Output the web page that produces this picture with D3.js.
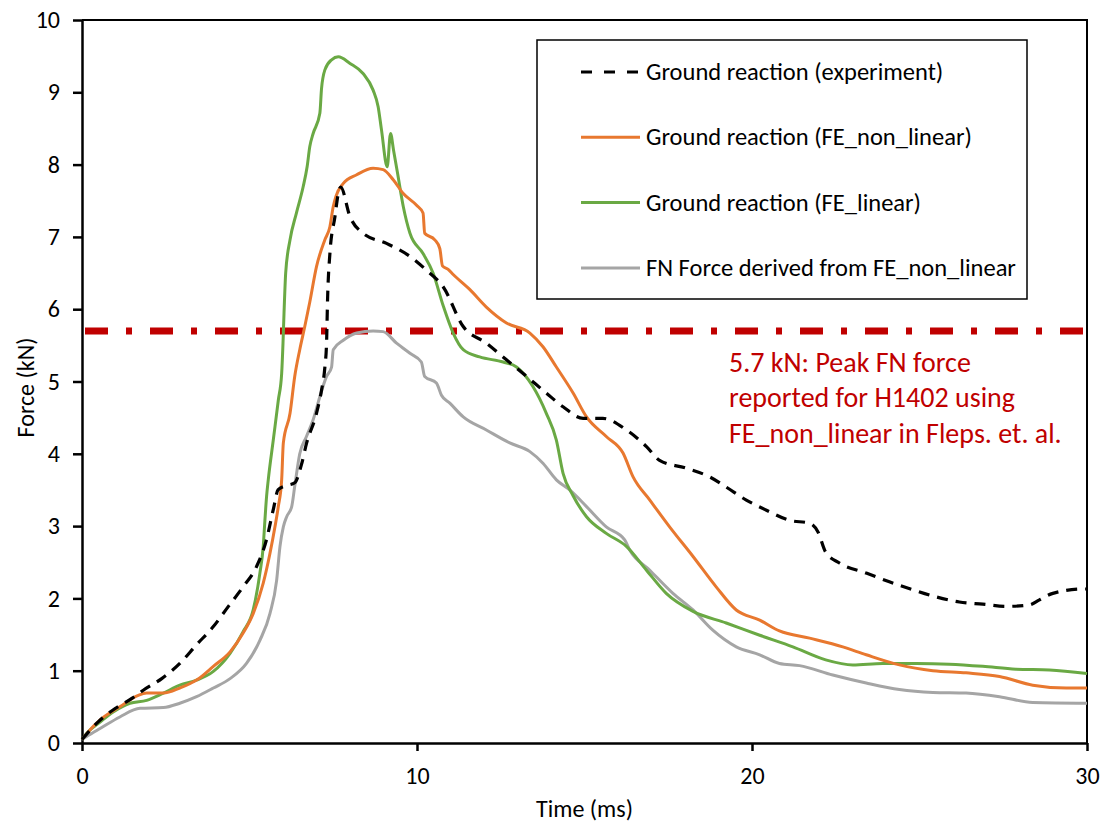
<!DOCTYPE html>
<html>
<head>
<meta charset="utf-8">
<script src="https://cdn.jsdelivr.net/npm/d3@7"></script>
<style>
  body { margin: 0; background: #fff; }
  text { font-family: Carlito, Calibri, Lato, sans-serif; }
</style>
</head>
<body>
<div id="chart"></div>
<script>
// Ground reaction (experiment)
const expTime = [0, 0.5, 1.0, 1.5, 1.83, 2.38, 2.92, 3.42, 3.92, 4.37, 4.81, 5.21, 5.5, 5.72, 5.85, 6.1, 6.35, 6.55, 6.7, 7.0, 7.15, 7.25, 7.3, 7.33, 7.4, 7.55, 7.65, 7.72, 8.0, 8.39, 9.09, 9.79, 10.28, 10.78, 11.38, 12.07, 12.67, 13.27, 13.86, 14.36, 14.96, 15.55, 16.25, 16.85, 17.24, 18.04, 18.74, 19.23, 19.83, 20.43, 21.12, 21.72, 21.97, 22.2, 22.61, 23.41, 24.1, 24.8, 25.5, 26.19, 26.89, 27.59, 28.28, 28.58, 28.98, 29.87, 30];
const expForce = [0.05, 0.3, 0.48, 0.62, 0.73, 0.89, 1.10, 1.36, 1.61, 1.89, 2.16, 2.44, 2.8, 3.25, 3.5, 3.56, 3.6, 3.85, 4.14, 4.56, 4.88, 5.2, 5.53, 6.13, 6.77, 7.28, 7.6, 7.69, 7.28, 7.05, 6.91, 6.73, 6.54, 6.31, 5.76, 5.53, 5.30, 5.07, 4.84, 4.65, 4.49, 4.49, 4.33, 4.10, 3.91, 3.80, 3.68, 3.54, 3.36, 3.22, 3.08, 3.04, 2.92, 2.64, 2.49, 2.35, 2.23, 2.12, 2.02, 1.95, 1.92, 1.89, 1.91, 1.98, 2.07, 2.13, 2.13];

// Ground reaction (FE_non_linear)
const nonlinTime = [0, 0.14, 0.54, 1.13, 1.68, 1.93, 2.43, 2.92, 3.42, 3.92, 4.42, 4.81, 5.11, 5.41, 5.61, 5.76, 5.86, 5.96, 6.01, 6.21, 6.35, 6.5, 6.65, 6.8, 7.0, 7.25, 7.4, 7.5, 7.58, 7.8, 8.2, 8.69, 8.99, 9.29, 9.59, 9.98, 10.18, 10.23, 10.53, 10.68, 10.76, 10.93, 11.08, 11.58, 12.07, 12.67, 13.37, 13.76, 14.16, 14.66, 15.06, 15.65, 16.15, 16.45, 16.95, 17.54, 18.24, 18.93, 19.53, 20.23, 20.82, 21.72, 22.71, 23.41, 24.4, 25.4, 26.39, 27.39, 28.38, 29.38, 30];
const nonlinForce = [0.05, 0.13, 0.32, 0.50, 0.66, 0.69, 0.69, 0.76, 0.87, 1.06, 1.26, 1.52, 1.79, 2.21, 2.62, 2.99, 3.27, 3.64, 4.15, 4.56, 5.07, 5.44, 5.76, 6.1, 6.59, 6.96, 7.14, 7.42, 7.56, 7.74, 7.86, 7.95, 7.93, 7.79, 7.60, 7.44, 7.33, 7.05, 6.96, 6.84, 6.6, 6.55, 6.48, 6.27, 6.03, 5.81, 5.67, 5.48, 5.2, 4.84, 4.51, 4.24, 4.01, 3.68, 3.36, 2.99, 2.58, 2.16, 1.84, 1.70, 1.55, 1.45, 1.33, 1.22, 1.08, 1.0, 0.97, 0.92, 0.80, 0.76, 0.76];

// Ground reaction (FE_linear)
const linTime = [0, 0.15, 0.54, 0.93, 1.43, 1.93, 2.43, 2.92, 3.42, 3.92, 4.42, 4.81, 5.11, 5.31, 5.41, 5.46, 5.51, 5.56, 5.71, 5.86, 5.96, 6.0, 6.03, 6.08, 6.21, 6.4, 6.6, 6.72, 6.8, 6.9, 7.1, 7.15, 7.25, 7.45, 7.65, 8.0, 8.39, 8.69, 8.84, 8.94, 9.11, 9.21, 9.3, 9.42, 9.59, 9.79, 10.18, 10.48, 10.78, 11.08, 11.38, 11.87, 12.57, 12.97, 13.46, 13.86, 14.16, 14.36, 14.66, 15.06, 15.65, 16.25, 16.85, 17.44, 18.24, 19.23, 20.23, 21.22, 22.2, 23.01, 23.9, 24.9, 25.89, 26.89, 27.88, 28.88, 30];
const linForce = [0.05, 0.14, 0.29, 0.43, 0.55, 0.59, 0.69, 0.80, 0.87, 0.99, 1.24, 1.54, 1.84, 2.35, 2.72, 3.08, 3.41, 3.64, 4.19, 4.74, 5.11, 5.53, 5.94, 6.50, 6.96, 7.33, 7.69, 7.97, 8.25, 8.43, 8.71, 9.05, 9.31, 9.45, 9.49, 9.40, 9.26, 9.03, 8.80, 8.48, 7.97, 8.43, 8.2, 7.88, 7.42, 7.05, 6.77, 6.50, 6.05, 5.67, 5.44, 5.34, 5.27, 5.2, 4.93, 4.56, 4.19, 3.73, 3.42, 3.13, 2.9, 2.72, 2.39, 2.07, 1.82, 1.66, 1.49, 1.33, 1.15, 1.08, 1.10, 1.10, 1.09, 1.06, 1.02, 1.01, 0.96];

// FN Force derived from FE_non_linear
const fnTime = [0, 0.14, 0.54, 1.13, 1.73, 2.43, 2.92, 3.42, 3.92, 4.42, 4.91, 5.31, 5.61, 5.81, 5.91, 6.01, 6.11, 6.26, 6.35, 6.5, 6.7, 6.9, 7.1, 7.3, 7.45, 7.5, 7.8, 8.2, 8.69, 8.99, 9.39, 9.79, 10.13, 10.23, 10.58, 10.73, 10.98, 11.38, 12.07, 12.77, 13.37, 13.76, 14.16, 14.56, 15.06, 15.65, 16.2, 16.35, 16.95, 17.64, 18.24, 18.83, 19.53, 20.23, 20.82, 21.42, 22.41, 23.41, 24.4, 25.4, 26.39, 27.39, 28.38, 30];
const fnForce = [0.05, 0.09, 0.2, 0.36, 0.48, 0.49, 0.55, 0.64, 0.76, 0.89, 1.10, 1.42, 1.79, 2.25, 2.72, 2.99, 3.13, 3.27, 3.55, 4.0, 4.24, 4.47, 4.79, 5.07, 5.2, 5.44, 5.57, 5.67, 5.70, 5.69, 5.53, 5.39, 5.27, 5.07, 4.98, 4.81, 4.70, 4.51, 4.33, 4.15, 4.03, 3.87, 3.64, 3.50, 3.27, 2.99, 2.81, 2.67, 2.39, 2.07, 1.84, 1.56, 1.33, 1.22, 1.10, 1.07, 0.94, 0.83, 0.74, 0.70, 0.69, 0.64, 0.56, 0.55];

const seriesNames = [
    'Ground reaction (experiment)',
    'Ground reaction (FE_non_linear)',
    'Ground reaction (FE_linear)',
    'FN Force derived from FE_non_linear'
];
const xTicks = [0, 10, 20, 30];
const yTicks = [0, 1, 2, 3, 4, 5, 6, 7, 8, 9, 10];
const peakFN = 5.7;
const noteLines = [
    '5.7 kN: Peak FN force',
    'reported for H1402 using',
    'FE_non_linear in Fleps. et. al.'
];

const series = [
    { name: seriesNames[0], time: expTime, force: expForce, color: '#000000', width: 3.2, dash: '11,8' },
    { name: seriesNames[1], time: nonlinTime, force: nonlinForce, color: '#E8782F', width: 3, dash: null },
    { name: seriesNames[2], time: linTime, force: linForce, color: '#6AA944', width: 3, dash: null },
    { name: seriesNames[3], time: fnTime, force: fnForce, color: '#A5A5A5', width: 3, dash: null }
];

const W = 1108, H = 830;
const svg = d3.select('#chart')
    .append('svg')
    .attr('width', W)
    .attr('height', H);

// Scales
const x = d3.scaleLinear().domain([0, 30]).range([82, 1087]);
const y = d3.scaleLinear().domain([0, 10]).range([743, 20]);

// Plot frame (top and right)
svg.append('path')
    .attr('d', `M${x(0)},${y(10)}H${x(30)}V${y(0)}`)
    .attr('fill', 'none')
    .attr('stroke', '#000')
    .attr('stroke-width', 2);

// Axes
const yAxis = svg.append('g')
    .attr('transform', `translate(${x(0)},0)`)
    .call(d3.axisLeft(y).tickValues(yTicks).tickSize(9).tickPadding(13).tickSizeOuter(0));

const xAxis = svg.append('g')
    .attr('transform', `translate(0,${y(0)})`)
    .call(d3.axisBottom(x).tickValues(xTicks).tickSize(8).tickPadding(16).tickSizeOuter(0));

[yAxis, xAxis].forEach(ax => {
    ax.select('.domain').attr('stroke', '#000').attr('stroke-width', 2.5);
    ax.selectAll('.tick line').attr('stroke', '#000').attr('stroke-width', 2.5);
    ax.selectAll('.tick text')
        .attr('fill', '#000')
        .attr('font-size', 24)
        .style('font-family', 'Carlito, Calibri, Lato, sans-serif');
});

// Axis titles
svg.append('text')
    .attr('transform', `translate(25,${(y(0) + y(10)) / 2 + 6}) rotate(-90)`)
    .attr('text-anchor', 'middle')
    .attr('dominant-baseline', 'central')
    .attr('font-size', 24)
    .attr('fill', '#000')
    .text('Force (kN)');

svg.append('text')
    .attr('x', (x(0) + x(30)) / 2)
    .attr('y', 808)
    .attr('text-anchor', 'middle')
    .attr('dominant-baseline', 'central')
    .attr('font-size', 24)
    .attr('fill', '#000')
    .text('Time (ms)');

// Reference line: peak FN force
svg.append('line')
    .attr('x1', x(0) + 3)
    .attr('x2', x(30))
    .attr('y1', y(peakFN))
    .attr('y2', y(peakFN))
    .attr('stroke', '#C00000')
    .attr('stroke-width', 7)
    .attr('stroke-dasharray', '23,18,6,18');

// Series lines
const line = d3.line()
    .x(d => x(d[0]))
    .y(d => y(d[1]))
    .curve(d3.curveMonotoneX);

// draw order: FN, linear, non-linear, experiment on top
[3, 2, 1, 0].forEach(i => {
    const s = series[i];
    const pts = s.time.map((t, j) => [t, s.force[j]]);
    svg.append('path')
        .datum(pts)
        .attr('d', line)
        .attr('fill', 'none')
        .attr('stroke', s.color)
        .attr('stroke-width', s.width)
        .attr('stroke-dasharray', s.dash)
        .attr('stroke-linejoin', 'round');
});

// Legend
const legend = svg.append('g').attr('class', 'legend');
legend.append('rect')
    .attr('x', 537)
    .attr('y', 40)
    .attr('width', 490)
    .attr('height', 259)
    .attr('fill', '#fff')
    .attr('stroke', '#000')
    .attr('stroke-width', 1.5);

series.forEach((s, i) => {
    const row = legend.append('g')
        .attr('transform', `translate(581, ${72 + i * 65.3})`);
    row.append('line')
        .attr('x1', 0)
        .attr('x2', 59)
        .attr('stroke', s.color)
        .attr('stroke-width', s.width)
        .attr('stroke-dasharray', s.dash ? '11,12' : null);
    row.append('text')
        .attr('x', 65)
        .attr('dominant-baseline', 'central')
        .attr('font-size', 24.5)
        .attr('fill', '#000')
        .text(s.name);
});

// Annotation
svg.append('g')
    .selectAll('text')
    .data(noteLines)
    .enter()
    .append('text')
    .attr('x', 729)
    .attr('y', (d, i) => 362 + i * 35.5)
    .attr('dominant-baseline', 'central')
    .attr('font-size', 28)
    .attr('fill', '#C00000')
    .text(d => d);
</script>
</body>
</html>
